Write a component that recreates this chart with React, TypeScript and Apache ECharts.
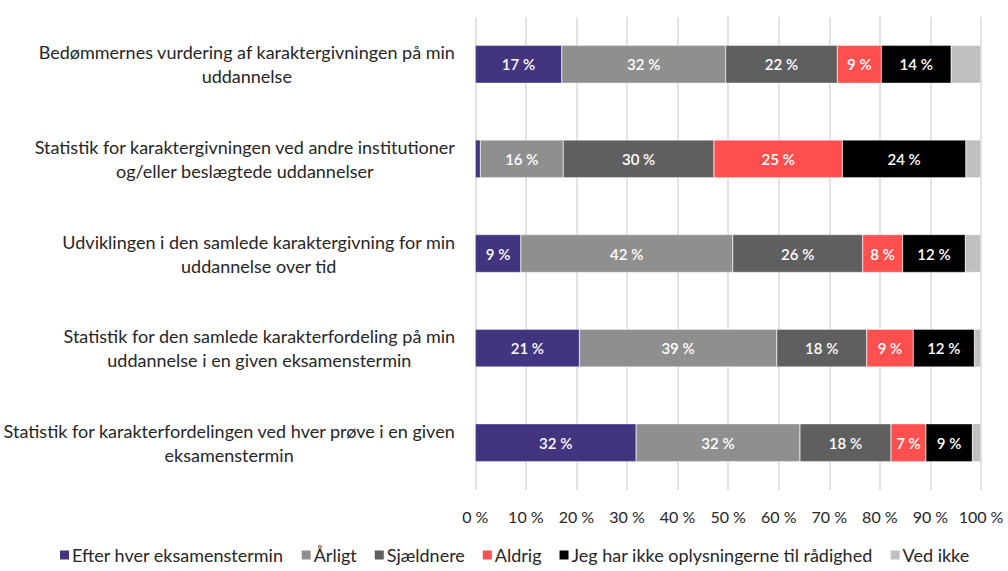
import React, { useEffect, useRef } from "react";
import * as echarts from "echarts";

const categories = [
  "Bedømmernes vurdering af karaktergivningen på min\nuddannelse",
  "Statistik for karaktergivningen ved andre institutioner\nog/eller beslægtede uddannelser",
  "Udviklingen i den samlede karaktergivning for min\nuddannelse over tid",
  "Statistik for den samlede karakterfordeling på min\nuddannelse i en given eksamenstermin",
  "Statistik for karakterfordelingen ved hver prøve i en given\neksamenstermin",
];

const seriesNames = [
  "Efter hver eksamenstermin",
  "Årligt",
  "Sjældnere",
  "Aldrig",
  "Jeg har ikke oplysningerne til rådighed",
  "Ved ikke",
];

const efterHver = [17.1, 1.0, 9.0, 20.6, 31.8];
const aarligt = [32.4, 16.4, 41.9, 39.0, 32.4];
const sjaeldnere = [22.1, 29.8, 25.7, 17.8, 18.0];
const aldrig = [8.7, 25.4, 7.9, 9.2, 6.9];
const ikkeOplysninger = [13.8, 24.4, 12.4, 12.1, 9.2];
const vedIkke = [5.9, 3.0, 3.1, 1.3, 1.7];

const seriesValues = [efterHver, aarligt, sjaeldnere, aldrig, ikkeOplysninger, vedIkke];
const colors = ["#42347f", "#8f8f8f", "#5f5f5f", "#ff4f4f", "#000000", "#bfbfbf"];
const xTicks = [0, 10, 20, 30, 40, 50, 60, 70, 80, 90, 100];

const FONT = "Lato, 'Open Sans', sans-serif";

export default function App() {
  const ref = useRef<HTMLDivElement>(null);
  useEffect(() => {
    if (!ref.current) return;
    const chart = echarts.init(ref.current, undefined, { renderer: "svg" });
    chart.setOption({
      animation: false,
      textStyle: { fontFamily: FONT },
      grid: { left: 475, right: 27, top: 17, bottom: 81, containLabel: false },
      legend: {
        top: 546,
        left: 58,
        icon: "rect",
        itemWidth: 11,
        itemHeight: 11,
        itemGap: 16,
        padding: 0,
        textStyle: { fontSize: 18, color: "#262626", fontFamily: FONT, padding: [0, 0, 0, -3] },
        data: seriesNames,
      },
      xAxis: {
        type: "value",
        min: xTicks[0],
        max: xTicks[xTicks.length - 1],
        interval: 10,
        axisLine: { show: false },
        axisTick: { show: false },
        splitLine: { lineStyle: { color: "#d9d9d9", width: 1.5 } },
        axisLabel: {
          formatter: (v: number) => `${v} %`,
          fontSize: 16,
          color: "#262626",
          margin: 18,
          fontFamily: FONT,
        },
      },
      yAxis: {
        type: "category",
        inverse: true,
        data: categories,
        axisLine: { show: false },
        axisTick: { show: false },
        axisLabel: {
          margin: 20,
          align: "right",
          fontFamily: FONT,
          formatter: (v: string) =>
            v
              .split("\n")
              .map((l) => `{a|${l}}`)
              .join("\n"),
          rich: {
            a: { fontSize: 18, color: "#262626", align: "center", lineHeight: 24, fontFamily: FONT },
          },
        },
      },
      series: seriesNames.map((name, i) => ({
        name,
        type: "bar",
        stack: "total",
        barWidth: "40%",
        itemStyle: { color: colors[i], borderColor: "#ffffff", borderWidth: 0.4 },
        label: {
          show: i < 5,
          position: "inside",
          color: "#ffffff",
          fontSize: 15,
          fontWeight: 600,
          fontFamily: FONT,
          formatter: (p: any) => (p.value >= 4 ? `${Math.round(p.value)} %` : ""),
        },
        data: seriesValues[i],
      })),
    });
    return () => chart.dispose();
  }, []);
  return <div ref={ref} style={{ width: 1008, height: 571, position: "absolute", left: 0, top: 0 }} />;
}
